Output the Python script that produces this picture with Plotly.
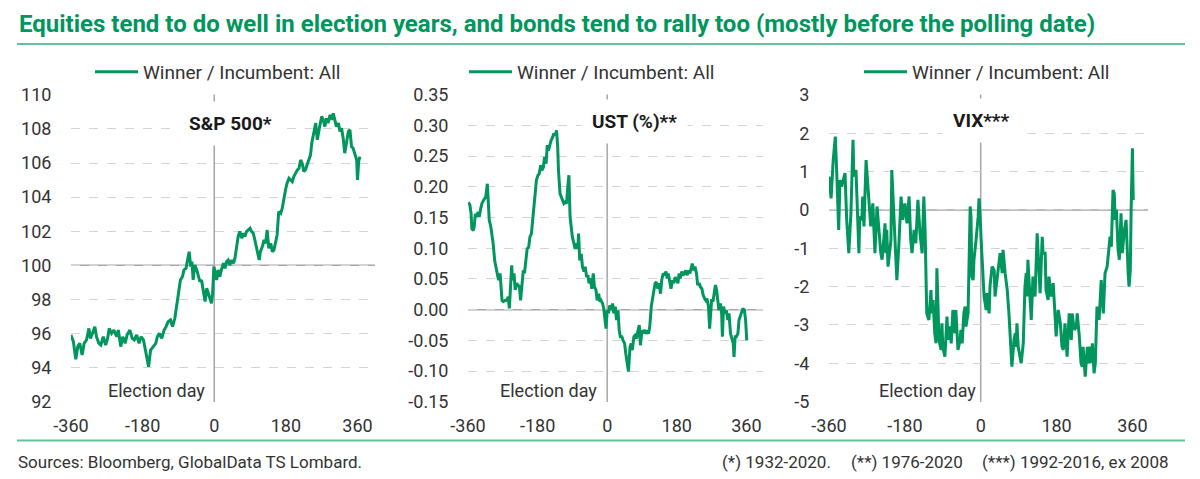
import plotly.graph_objects as go

# ---------------- data ----------------
sp_days = [-360,-354,-348,-343,-338,-332,-327,-321,-315,-311,
           -306,-300,-296,-290,-285,-279,-273,-268,-264,-258,
           -252,-245,-241,-235,-230,-224,-219,-212,-206,-201,
           -195,-189,-184,-178,-173,-168,-165,-160,-153,-147,
           -143,-138,-132,-126,-121,-116,-110,-105,-99,-95,
           -90,-85,-80,-76,-71,-67,-63,-59,-56,-53,
           -49,-44,-40,-36,-32,-28,-23,-19,-15,-11,
           -7,-4,-1,3,6,10,14,18,23,27,
           31,35,39,44,48,52,56,60,64,69,
           73,77,81,85,90,94,98,102,106,111,
           113,116,121,125,129,133,137,142,146,150,
           154,158,162,167,171,175,179,183,188,192,
           196,200,204,209,213,217,221,225,229,234,
           238,242,245,249,252,255,259,262,265,270,
           274,278,282,286,291,295,299,303,307,312,
           316,320,324,328,332,337,341,345,349,353,
           358,360,363,366]
sp_vals = [95.91,95.52,94.48,95.23,95.42,94.74,95.42,95.62,96.30,95.71,
           96.01,96.40,95.81,95.42,95.32,95.81,95.32,95.71,96.30,96.01,
           96.20,95.81,96.20,95.23,95.81,95.42,95.91,96.20,95.71,95.62,
           95.91,95.42,95.81,95.62,95.03,94.25,94.05,95.03,95.23,95.42,
           95.81,96.01,95.71,96.20,96.40,96.69,96.79,96.40,96.89,97.57,
           98.55,99.14,99.33,99.73,99.82,100.31,100.80,99.92,100.22,99.14,
           100.02,99.73,99.33,99.04,99.14,98.65,97.87,98.65,98.36,98.16,
           97.77,98.36,99.92,99.53,99.14,99.73,99.33,99.73,100.12,99.82,
           100.22,100.31,100.02,100.31,100.12,100.41,101.00,101.68,101.98,101.59,
           101.88,101.68,101.98,102.07,102.17,101.98,101.88,101.49,101.10,100.61,
           100.31,100.80,101.10,101.49,101.29,102.07,101.00,101.29,100.80,100.90,
           101.29,101.78,103.15,103.05,103.35,104.03,104.42,104.81,105.11,105.01,
           104.91,105.21,105.40,105.60,105.69,106.18,105.99,105.50,105.60,105.99,
           106.18,106.48,107.16,107.65,108.14,108.34,107.36,107.85,108.14,108.73,
           108.53,108.14,108.63,108.34,108.83,108.53,108.92,108.53,108.14,108.34,
           107.85,108.04,107.46,106.58,107.06,107.85,107.95,106.97,106.87,106.58,
           106.18,105.01,106.09,106.38]

ust_days = [-359,-355,-352,-350,-346,-344,-341,-338,-334,-331,
            -327,-324,-320,-317,-314,-310,-307,-305,-301,-298,
            -295,-291,-288,-284,-281,-277,-275,-272,-269,-264,
            -260,-256,-253,-250,-247,-245,-241,-238,-234,-231,
            -227,-224,-220,-217,-214,-210,-207,-203,-200,-196,
            -193,-189,-186,-183,-179,-176,-172,-169,-165,-162,
            -158,-155,-152,-148,-145,-141,-138,-134,-131,-128,
            -126,-122,-119,-115,-112,-109,-105,-102,-99,-96,
            -93,-90,-86,-83,-79,-76,-74,-71,-67,-64,
            -60,-57,-53,-50,-47,-43,-40,-36,-33,-29,
            -26,-22,-19,-16,-12,-9,-6,-3,0,3,
            7,10,14,17,21,24,28,31,34,38,
            41,45,48,52,55,59,62,65,69,72,
            76,79,83,86,90,93,96,100,103,107,
            110,114,117,121,124,127,131,134,138,141,
            145,148,152,155,158,162,165,169,172,176,
            179,183,186,189,193,196,200,203,207,210,
            214,217,220,224,227,231,234,238,241,245,
            248,252,255,258,262,265,268,270,274,277,
            280,283,286,289,293,296,298,301,305,308,
            312,315,319,322,326,328,331,334,338,341,
            345,348,351,355,358,361]
ust_vals = [0.175,0.170,0.156,0.132,0.129,0.135,0.156,0.151,0.159,0.151,
            0.165,0.173,0.178,0.181,0.184,0.205,0.178,0.146,0.135,0.124,
            0.108,0.080,0.070,0.059,0.048,0.059,0.037,0.015,0.013,0.015,
            0.015,0.021,0.002,0.048,0.072,0.048,0.059,0.032,0.043,0.040,
            0.037,0.015,0.048,0.064,0.059,0.080,0.099,0.102,0.118,0.124,
            0.146,0.167,0.194,0.211,0.219,0.221,0.235,0.227,0.232,0.249,
            0.238,0.268,0.259,0.270,0.276,0.281,0.287,0.284,0.292,0.265,
            0.227,0.189,0.184,0.178,0.173,0.175,0.173,0.200,0.219,0.151,
            0.135,0.118,0.108,0.099,0.108,0.099,0.124,0.080,0.091,0.070,
            0.062,0.070,0.053,0.056,0.043,0.051,0.034,0.059,0.037,0.032,
            0.015,0.026,0.013,0.015,0.010,0.002,-0.014,-0.031,-0.001,-0.006,
            0.007,-0.001,0.010,-0.006,0.005,-0.017,-0.001,-0.033,-0.044,-0.044,
            -0.050,-0.055,-0.071,-0.085,-0.101,-0.061,-0.055,-0.066,-0.044,-0.042,
            -0.047,-0.036,-0.025,-0.058,-0.033,-0.039,-0.033,-0.039,-0.036,-0.039,
            -0.028,0.005,0.021,0.032,0.043,0.045,0.034,0.043,0.026,0.048,
            0.059,0.056,0.062,0.051,0.059,0.045,0.034,0.048,0.043,0.053,
            0.048,0.043,0.059,0.051,0.062,0.056,0.059,0.064,0.056,0.064,
            0.059,0.070,0.075,0.064,0.070,0.059,0.040,0.043,0.037,0.034,
            0.024,0.018,0.015,0.018,0.005,-0.031,-0.006,0.015,0.015,0.026,
            0.040,0.032,0.015,-0.001,0.010,-0.006,-0.044,0.005,-0.006,-0.001,
            -0.017,-0.006,-0.039,-0.047,-0.055,-0.077,-0.044,-0.044,-0.039,-0.017,
            -0.009,-0.004,0.002,-0.001,-0.017,-0.050]

vix_days = [-360,-355,-350,-345,-341,-337,-334,-330,-322,-318,
            -313,-308,-303,-301,-296,-291,-289,-287,-282,-280,
            -277,-272,-268,-263,-261,-256,-251,-246,-242,-237,
            -234,-230,-227,-225,-223,-220,-215,-213,-211,-206,
            -201,-199,-194,-189,-185,-180,-175,-170,-166,-163,
            -158,-154,-149,-144,-139,-137,-135,-132,-130,-128,
            -123,-118,-116,-113,-109,-106,-104,-99,-94,-92,
            -90,-85,-80,-78,-73,-70,-66,-61,-59,-54,
            -49,-47,-44,-40,-37,-35,-30,-28,-25,-23,
            -21,-18,-16,-11,-6,-4,-2,1,3,6,
            8,13,15,20,22,27,32,34,39,44,
            46,51,53,58,63,67,70,74,79,82,
            84,86,89,93,96,101,105,108,110,112,
            117,120,124,129,134,136,141,146,148,153,
            155,160,162,167,172,177,179,184,189,193,
            196,200,205,210,215,217,222,227,229,234,
            238,241,243,248,253,255,260,262,265,269,
            272,274,276,281,284,286,291,295,300,303,
            307,310,312,314,317,319,322,326,329,331,
            333,336,341,345,348,350,352,355,357,360,
            362]
vix_vals = [0.87,0.30,1.30,1.91,0.78,-0.52,0.78,0.61,0.96,-0.26,
            -1.13,-0.09,1.83,0.87,1.04,-0.78,-1.13,-0.17,-0.26,0.35,
            -0.43,1.30,0.61,0.00,-0.43,0.17,-1.13,0.09,-0.52,-1.13,
            -1.30,-0.61,-0.35,-1.13,-0.52,-1.48,-0.96,-0.78,1.04,-0.17,
            -1.48,-1.83,-0.87,0.35,-0.26,0.17,-0.35,0.35,-0.78,-1.13,
            -0.52,-0.87,0.26,-0.61,-1.13,0.09,0.35,-0.52,-1.83,-2.70,
            -2.87,-2.09,-2.70,-2.35,-3.22,-3.48,-1.52,-3.39,-3.65,-2.96,
            -3.57,-3.83,-2.78,-3.39,-3.04,-3.48,-2.61,-3.22,-2.61,-3.65,
            -3.39,-3.13,-3.48,-2.70,-2.52,-3.04,-2.70,-1.48,0.09,-0.17,
            -1.74,-1.83,-1.30,-0.78,-0.17,0.30,0.00,-0.78,-1.13,-1.83,
            -2.26,-2.61,-2.17,-2.70,-2.00,-1.48,-1.57,-2.26,-1.83,-1.30,
            -1.13,-1.65,-1.04,-1.65,-2.09,-2.70,-3.22,-4.09,-3.39,-3.22,
            -3.57,-2.96,-3.57,-3.83,-4.00,-3.48,-2.00,-1.65,-2.26,-1.30,
            -2.52,-2.87,-1.74,-2.26,-0.61,-1.13,-2.17,-0.70,-1.13,-1.13,
            -2.09,-2.35,-1.74,-2.26,-1.91,-2.87,-3.30,-2.61,-2.96,-3.57,
            -3.65,-2.96,-3.83,-2.70,-3.39,-2.70,-3.13,-3.04,-2.70,-3.30,
            -4.00,-4.09,-3.57,-4.35,-3.57,-4.00,-3.57,-4.00,-3.48,-4.26,
            -4.00,-3.22,-2.52,-2.87,-2.17,-1.83,-2.70,-1.65,-1.48,-1.04,
            -0.70,-0.96,-0.09,0.52,0.43,-0.26,0.00,-1.04,-1.30,-0.61,
            -0.09,-1.13,-0.52,-0.26,-1.30,-1.65,-2.00,-1.57,0.00,1.61,
            0.26]

x_ticks = [-360, -180, 0, 180, 360]
x_tick_text = ["-360", "-180", "0", "180", "360"]
sp_ticks = [92, 94, 96, 98, 100, 102, 104, 106, 108, 110]
sp_tick_text = ["92", "94", "96", "98", "100", "102", "104", "106", "108", "110"]
ust_ticks = [-0.15, -0.10, -0.05, 0.0, 0.05, 0.10, 0.15, 0.20, 0.25, 0.30, 0.35]
ust_tick_text = ["-0.15", "-0.10", "-0.05", "0.00", "0.05", "0.10", "0.15", "0.20", "0.25", "0.30", "0.35"]
vix_ticks = [-5, -4, -3, -2, -1, 0, 1, 2, 3]
vix_tick_text = ["-5", "-4", "-3", "-2", "-1", "0", "1", "2", "3"]

series_name = "Winner / Incumbent: All"
panel_titles = ["S&amp;P 500*", "UST (%)**", "VIX***"]
title_text = "Equities tend to do well in election years, and bonds tend to rally too (mostly before the polling date)"
source_text = "Sources: Bloomberg, GlobalData TS Lombard."
notes = ["(*) 1932-2020.", "(**) 1976-2020", "(***) 1992-2016, ex 2008"]

# ---------------- styling ----------------
GREEN = "#00965E"
RULE = "#62C29A"
TEXT = "#333333"
GRID = "#d4d4d4"
AXISLINE = "#a6a6a6"
FONT = "Roboto"
W, H = 1200, 479

def px(x):
    return x / W

def py(y):
    return 1 - y / H

ydom = [py(402), py(94.5)]
xdoms = [[px(71), px(375)], [px(468), px(763)], [px(829), px(1148)]]
xranges = [[-360, 404], [-360, 403], [-360, 397]]

fig = go.Figure()
data = [(sp_days, sp_vals), (ust_days, ust_vals), (vix_days, vix_vals)]
legend_ids = ["legend", "legend2", "legend3"]
for i, (xd, yd) in enumerate(data):
    sfx = "" if i == 0 else str(i + 1)
    fig.add_trace(go.Scatter(
        x=xd, y=yd, mode="lines", name=series_name,
        line=dict(color=GREEN, width=3),
        xaxis="x" + sfx, yaxis="y" + sfx, legend=legend_ids[i],
        showlegend=True,
    ))

layout = dict(
    width=W, height=H, margin=dict(l=0, r=0, t=0, b=0, autoexpand=False),
    paper_bgcolor="white", plot_bgcolor="white",
    font=dict(family=FONT, size=18, color=TEXT),
)

yspecs = [
    ([91.98, 110.02], sp_ticks, sp_tick_text),
    ([-0.1505, 0.3505], ust_ticks, ust_tick_text),
    ([-5.01, 3.01], vix_ticks, vix_tick_text),
]
for i in range(3):
    sfx = "" if i == 0 else str(i + 1)
    layout["xaxis" + sfx] = dict(
        domain=xdoms[i], range=xranges[i], anchor="y" + sfx,
        tickvals=x_ticks, ticktext=x_tick_text,
        showgrid=False, zeroline=False, showline=False,
        ticks="outside", ticklen=7, tickcolor="rgba(0,0,0,0)",
        tickfont=dict(family=FONT, size=18, color=TEXT),
        fixedrange=True,
    )
    rng, tv, tt = yspecs[i]
    layout["yaxis" + sfx] = dict(
        domain=ydom, range=rng, anchor="x" + sfx,
        tickvals=tv, ticktext=tt,
        showgrid=True, gridcolor=GRID, griddash="dash", gridwidth=1,
        zeroline=False, showline=False,
        ticks="outside", ticklen=15, tickcolor="rgba(0,0,0,0)",
        tickfont=dict(family=FONT, size=18, color=TEXT),
        fixedrange=True,
    )

legend_x = [px(90), px(464), px(859)]
for i, lid in enumerate(legend_ids):
    layout[lid] = dict(
        x=legend_x[i], y=py(72), xanchor="left", yanchor="middle",
        orientation="h", bgcolor="rgba(0,0,0,0)", borderwidth=0,
        itemwidth=43,
        font=dict(family=FONT, size=19, color=TEXT),
    )

shapes = []
baselines = [100, 0, 0]
for i in range(3):
    sfx = "" if i == 0 else str(i + 1)
    shapes.append(dict(type="line", xref="x" + sfx, yref="paper",
                       x0=0, x1=0, y0=ydom[0], y1=ydom[1], layer="below",
                       line=dict(color=AXISLINE, width=1.5)))
    shapes.append(dict(type="line", xref="paper", yref="y" + sfx,
                       x0=xdoms[i][0], x1=xdoms[i][1], y0=baselines[i], y1=baselines[i],
                       layer="below", line=dict(color=AXISLINE, width=1.5)))
shapes.append(dict(type="line", xref="paper", yref="paper", x0=px(17), x1=px(1185),
                   y0=py(44), y1=py(44), line=dict(color=RULE, width=2)))
shapes.append(dict(type="line", xref="paper", yref="paper", x0=px(17), x1=px(1185),
                   y0=py(440.5), y1=py(440.5), line=dict(color=RULE, width=2)))
layout["shapes"] = shapes

annotations = [
    dict(text="<b>" + title_text + "</b>", x=px(17), y=py(24), xref="paper", yref="paper",
         xanchor="left", yanchor="middle", showarrow=False,
         font=dict(family=FONT, size=24, color=GREEN)),
    dict(text=source_text, x=px(16), y=py(462), xref="paper", yref="paper",
         xanchor="left", yanchor="middle", showarrow=False,
         font=dict(family=FONT, size=17, color=TEXT)),
]
note_pos = [(px(720), "left"), (px(849), "left"), (px(1171), "right")]
for i, txt in enumerate(notes):
    annotations.append(dict(
        text=txt, x=note_pos[i][0], y=py(462), xref="paper", yref="paper",
        xanchor=note_pos[i][1], yanchor="middle", showarrow=False,
        font=dict(family=FONT, size=17, color=TEXT)))
label_pos = [(px(230), py(124)), (px(634), py(122)), (px(981), py(120))]
for i in range(3):
    annotations.append(dict(
        text="<b>" + panel_titles[i] + "</b>", x=label_pos[i][0], y=label_pos[i][1],
        xref="paper", yref="paper", xanchor="center", yanchor="middle",
        showarrow=False, bgcolor="white", borderpad=10,
        font=dict(family=FONT, size=19, color="#1a1a1a")))
eday_right = [px(207), px(599), px(978)]
for i in range(3):
    annotations.append(dict(
        text="Election day", x=eday_right[i], y=py(390), xref="paper", yref="paper",
        xanchor="right", yanchor="middle", showarrow=False,
        font=dict(family=FONT, size=18, color=TEXT)))
layout["annotations"] = annotations

fig.update_layout(**layout)
fig.write_html("out.html", config={"displayModeBar": False},
               post_script="document.body.style.margin='0';")
